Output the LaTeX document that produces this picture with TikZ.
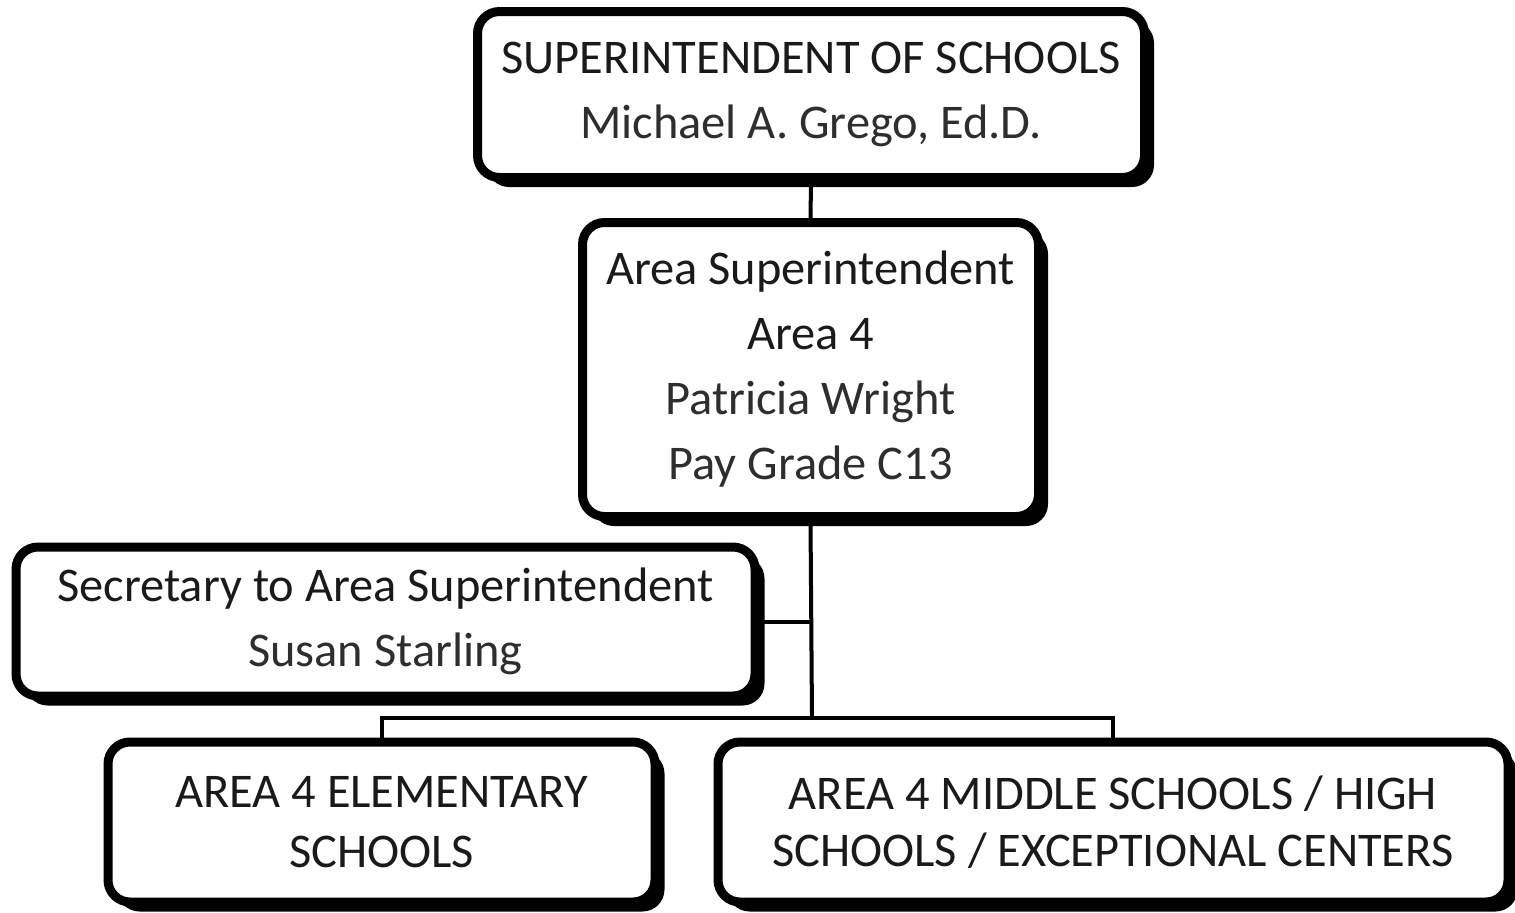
\documentclass[tikz,border=0pt]{standalone}
\usepackage{fontspec}
\setmainfont{Carlito}
\usetikzlibrary{shadows}
\definecolor{txt}{HTML}{1A1A1A}
\definecolor{txtl}{HTML}{2E2E2E}
\tikzset{
  orgbox/.style={draw=black, line width=4.5pt, fill=white, rounded corners=11pt,
    inner sep=0pt, align=center, text=txt,
    font=\fontsize{24.2}{32.5}\selectfont,
    drop shadow={shadow xshift=4.75pt, shadow yshift=-4.75pt, fill=black, opacity=1}},
  conn/.style={draw=black, line width=2pt},
}
\begin{document}
\begin{tikzpicture}[x=0.5pt, y=-0.5pt]
\useasboundingbox (0,0) rectangle (1515,912);
\node[orgbox, minimum width=333.5pt, minimum height=83pt] (top) at (811,94.5)
  {SUPERINTENDENT OF SCHOOLS\\\textcolor{txtl}{Michael A. Grego, Ed.D.}};
\node[orgbox, minimum width=228pt, minimum height=147pt] (area) at (810.5,369.5)
  {Area Superintendent\\Area 4\\\textcolor{txtl}{Patricia Wright}\\\textcolor{txtl}{Pay Grade C13}};
\node[orgbox, minimum width=369.5pt, minimum height=74.5pt] (sec) at (385.5,621.5)
  {Secretary to Area Superintendent\\\textcolor{txtl}{Susan Starling}};
\node[orgbox, minimum width=273.5pt, minimum height=80pt, font=\fontsize{24.2}{30}\selectfont] (elem) at (381.5,822)
  {AREA 4 ELEMENTARY\\SCHOOLS};
\node[orgbox, minimum width=395pt, minimum height=80pt, font=\fontsize{24.2}{28.5}\selectfont] (mid) at (1113,822)
  {AREA 4 MIDDLE SCHOOLS / HIGH\\SCHOOLS / EXCEPTIONAL CENTERS};
\coordinate (bus) at (812,718);
\draw[conn] (top.south) -- (area.north);
\draw[conn] (area.south) -- (bus);
\draw[conn] (area.south |- sec.east) -- (sec.east);
\draw[conn] (elem.north) |- (bus) -| (mid.north);
\end{tikzpicture}
\end{document}
